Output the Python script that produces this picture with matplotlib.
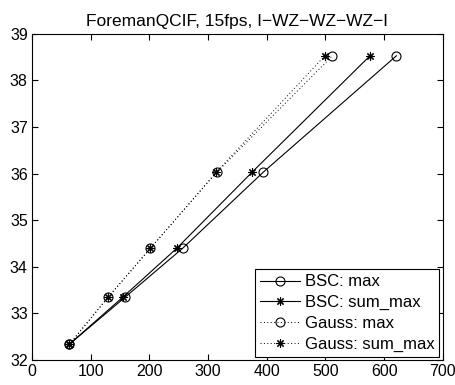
import matplotlib
matplotlib.use("Agg")
import matplotlib.pyplot as plt

plt.rcParams["font.family"] = ["Liberation Sans", "DejaVu Sans"]

# rate (kbps) vs PSNR (dB)
psnr = [32.34, 33.35, 34.40, 36.03, 38.53]
bsc_max = [64, 159, 257, 394, 621]
bsc_sum_max = [64, 155, 247, 375, 576]
gauss_max = [64, 130, 202, 315, 512]
gauss_sum_max = [64, 130, 202, 314, 499]

star = (8, 2, 0)

fig = plt.figure(figsize=(4.56, 3.85), dpi=100)
ax = fig.add_axes([0.070, 0.065, 0.901, 0.847])

ax.plot(bsc_max, psnr, "-", color="k", lw=0.8, marker="o", ms=6.5,
        mfc="none", mec="k", mew=0.8, label="BSC: max")
ax.plot(bsc_sum_max, psnr, "-", color="k", lw=0.8, marker=star, ms=6,
        mec="k", mew=0.8, label="BSC: sum_max")
ax.plot(gauss_max, psnr, color="k", ls=(0, (1, 2.5)), lw=0.7, marker="o", ms=6.5,
        mfc="none", mec="k", mew=0.8, label="Gauss: max")
ax.plot(gauss_sum_max, psnr, color="k", ls=(0, (1, 2.5)), lw=0.7, marker=star, ms=6,
        mec="k", mew=0.8, label="Gauss: sum_max")

ax.set_xlim(0, 700)
ax.set_ylim(32, 39)
ax.set_xticks(range(0, 701, 100))
ax.set_yticks(range(32, 40))
ax.tick_params(direction="in", top=True, right=True, labelsize=11.5,
               length=4, width=0.8, pad=3)
for s in ax.spines.values():
    s.set_linewidth(0.8)

ax.set_title("ForemanQCIF, 15fps, I\u2212WZ\u2212WZ\u2212WZ\u2212I", fontsize=12.5, pad=6)

leg = ax.legend(loc="lower right", fontsize=12, fancybox=False,
                edgecolor="k", framealpha=1, borderaxespad=0.2,
                handlelength=2.4, handletextpad=0.3, labelspacing=0.34,
                borderpad=0.3)
leg.get_frame().set_linewidth(0.8)

fig.savefig("out.png", dpi=100)
